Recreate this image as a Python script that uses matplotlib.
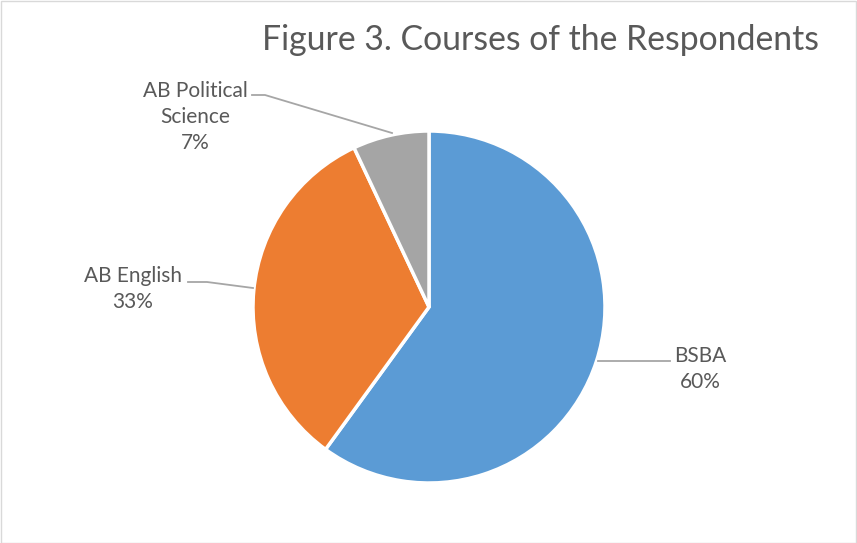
import matplotlib.pyplot as plt
from matplotlib.patches import Rectangle

plt.rcParams['font.family'] = ['Lato', 'DejaVu Sans']

# data
courses = ["BSBA", "AB English", "AB Political\nScience"]
shares = [60, 33, 7]
colors = ["#5B9BD5", "#ED7D31", "#A5A5A5"]

W, H = 857, 543
cx, cy, r = 429, 236, 176   # pie center (px from bottom-left) and radius


def px(x, y_top):
    # pixel coords (top-left origin) -> data units
    return (x - cx) / r, (H - y_top - cy) / r


def main():
    fig = plt.figure(figsize=(W / 100, H / 100), dpi=100)
    ax = fig.add_axes([0, 0, 1, 1])
    ax.pie(shares, colors=colors, startangle=90, counterclock=False,
           wedgeprops=dict(edgecolor="white", linewidth=2.5))
    ax.set_xlim(-cx / r, (W - cx) / r)
    ax.set_ylim(-cy / r, (H - cy) / r)
    ax.set_aspect("equal")
    ax.axis("off")

    # labels and leader lines
    label_pos = [(700, 369), (133, 289), (195, 117)]
    leaders = [
        [(598, 361), (670, 361)],
        [(253, 288), (207, 282), (188, 282)],
        [(392, 133), (265, 95), (252, 95)],
    ]
    for name, val, pos, pts in zip(courses, shares, label_pos, leaders):
        xs, ys = zip(*[px(x, y) for x, y in pts])
        ax.plot(xs, ys, color="#A6A6A6", lw=1.3)
        tx, ty = px(*pos)
        ax.text(tx, ty, f"{name}\n{val}%", ha="center", va="center",
                fontsize=15, color="#595959", linespacing=1.35)

    fig.text(541 / W, 1 - 40 / H, "Figure 3. Courses of the Respondents",
             ha="center", va="center", fontsize=24.3, color="#595959")

    fig.patches.append(Rectangle((0.5 / W, 0.5 / H), 1 - 1.5 / W, 1 - 1.5 / H,
                                 transform=fig.transFigure, fill=False,
                                 edgecolor="#D9D9D9", lw=1))
    fig.savefig("out.png", dpi=100)


if __name__ == '__main__':
    main()
